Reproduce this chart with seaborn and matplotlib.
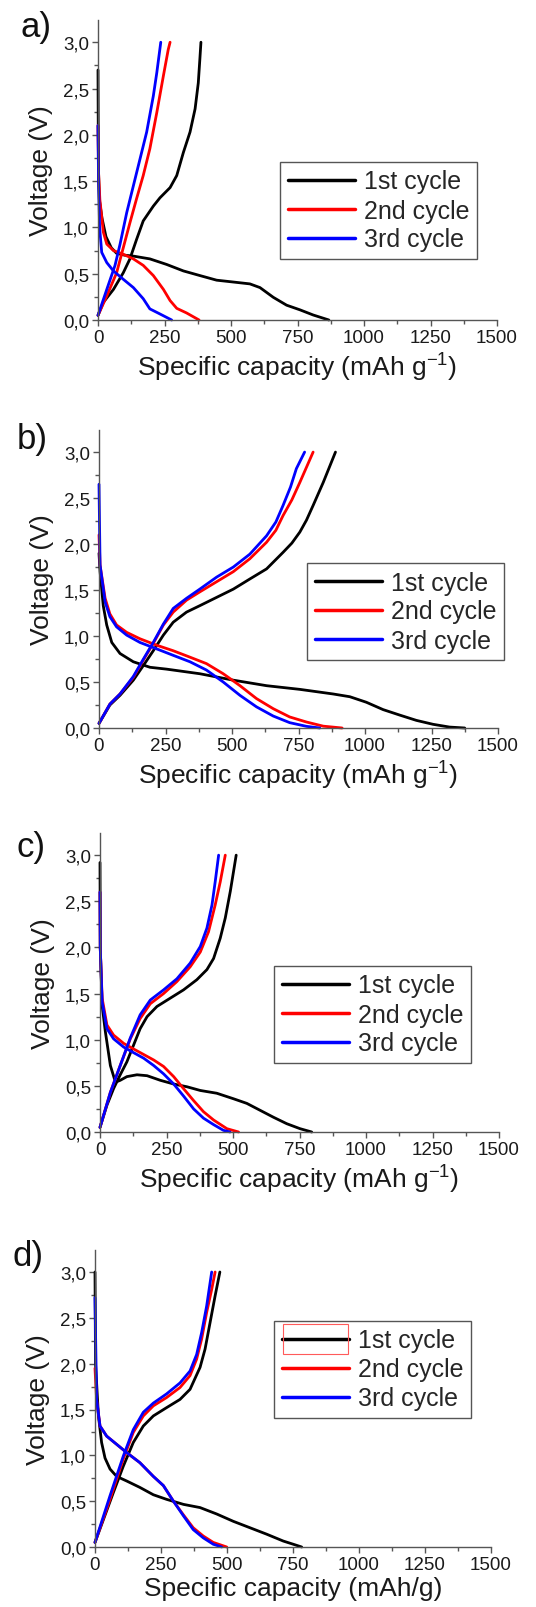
import numpy as np
import pandas as pd
import matplotlib
matplotlib.use("Agg")
import matplotlib.pyplot as plt
import seaborn as sns
from matplotlib.ticker import MultipleLocator, FuncFormatter
from matplotlib.patches import Rectangle

# ---------------- data ----------------
cycles = ["1st cycle", "2nd cycle", "3rd cycle"]
colors = ["#000000", "#ff0000", "#0000ff"]
panel_labels = ["a)", "b)", "c)", "d)"]
xlabels = ["Specific capacity (mAh g$^{\\mathregular{-1}}$)"] * 3 + ["Specific capacity (mAh/g)"]
xticks = [0, 250, 500, 750, 1000, 1250, 1500]
yticks = [0.0, 0.5, 1.0, 1.5, 2.0, 2.5, 3.0]

# Panel a
a_dis1_x = [0, 1, 2, 5, 15, 30, 50, 70, 100, 133, 195, 258, 321, 383, 446, 509, 571, 609, 659, 709, 759, 809, 868]
a_dis1_y = [2.7, 2.0, 1.6, 1.3, 1.1, 0.9, 0.78, 0.72, 0.70, 0.69, 0.66, 0.60, 0.53, 0.48, 0.43, 0.41, 0.39, 0.35, 0.245, 0.16, 0.11, 0.054, 0.0]
a_dis2_x = [0, 2, 7, 20, 33, 58, 95, 133, 170, 208, 246, 271, 296, 333, 380]
a_dis2_y = [2.1, 1.6, 1.3, 0.95, 0.82, 0.75, 0.71, 0.66, 0.59, 0.48, 0.33, 0.21, 0.126, 0.076, 0.0]
a_dis3_x = [0, 2, 6, 14, 33, 58, 95, 133, 170, 195, 233, 277]
a_dis3_y = [2.1, 1.5, 1.0, 0.73, 0.62, 0.53, 0.44, 0.35, 0.23, 0.12, 0.065, 0.0]
a_chg1_x = [0, 20, 58, 95, 120, 145, 170, 208, 233, 271, 296, 321, 346, 365, 377, 383, 387]
a_chg1_y = [0.05, 0.19, 0.33, 0.51, 0.66, 0.87, 1.07, 1.23, 1.32, 1.43, 1.56, 1.81, 2.03, 2.28, 2.56, 2.82, 3.0]
a_chg2_x = [0, 33, 70, 95, 120, 145, 170, 195, 221, 246, 264, 271]
a_chg2_y = [0.05, 0.26, 0.51, 0.78, 1.05, 1.31, 1.56, 1.85, 2.24, 2.64, 2.92, 3.0]
a_chg3_x = [0, 33, 64, 83, 108, 133, 158, 183, 208, 221, 236]
a_chg3_y = [0.05, 0.33, 0.59, 0.82, 1.16, 1.45, 1.74, 2.03, 2.42, 2.67, 3.0]

# Panel b
b_dis1_x = [0, 4, 16, 29, 48, 79, 129, 192, 254, 379, 505, 630, 755, 880, 943, 1005, 1068, 1131, 1193, 1256, 1318, 1375]
b_dis1_y = [1.9, 1.70, 1.33, 1.12, 0.93, 0.81, 0.72, 0.66, 0.64, 0.59, 0.52, 0.46, 0.42, 0.37, 0.34, 0.28, 0.20, 0.14, 0.083, 0.04, 0.01, 0.0]
b_dis2_x = [0, 4, 23, 41, 66, 104, 154, 217, 279, 342, 404, 467, 530, 592, 655, 717, 780, 843, 914]
b_dis2_y = [2.1, 1.77, 1.41, 1.24, 1.12, 1.04, 0.97, 0.90, 0.84, 0.77, 0.70, 0.59, 0.46, 0.32, 0.21, 0.12, 0.065, 0.02, 0.0]
b_dis3_x = [0, 4, 23, 41, 66, 104, 154, 217, 279, 342, 404, 467, 530, 592, 655, 717, 780, 830]
b_dis3_y = [2.65, 1.77, 1.37, 1.21, 1.10, 1.01, 0.93, 0.86, 0.79, 0.72, 0.63, 0.50, 0.355, 0.23, 0.13, 0.058, 0.018, 0.0]
b_chg1_x = [0, 41, 79, 129, 167, 204, 242, 279, 329, 379, 442, 505, 567, 630, 692, 725, 755, 780, 805, 843, 889]
b_chg1_y = [0.05, 0.25, 0.355, 0.52, 0.68, 0.84, 1.01, 1.15, 1.26, 1.33, 1.42, 1.51, 1.62, 1.73, 1.91, 2.01, 2.13, 2.26, 2.42, 2.67, 3.0]
b_chg2_x = [0, 41, 79, 129, 167, 204, 242, 279, 329, 379, 442, 505, 567, 630, 665, 692, 725, 755, 805]
b_chg2_y = [0.05, 0.26, 0.37, 0.55, 0.74, 0.92, 1.12, 1.26, 1.39, 1.48, 1.59, 1.70, 1.84, 2.02, 2.15, 2.31, 2.48, 2.67, 3.0]
b_chg3_x = [0, 41, 79, 129, 167, 204, 242, 279, 329, 379, 442, 505, 567, 630, 665, 692, 720, 742, 773]
b_chg3_y = [0.05, 0.26, 0.37, 0.56, 0.75, 0.93, 1.13, 1.30, 1.41, 1.51, 1.64, 1.75, 1.89, 2.09, 2.24, 2.42, 2.62, 2.82, 3.0]

# Panel c
c_dis1_x = [0, 1, 8, 20, 39, 58, 76, 101, 139, 177, 227, 277, 327, 377, 439, 502, 552, 602, 652, 702, 752, 796]
c_dis1_y = [2.92, 2.0, 1.37, 1.09, 0.72, 0.54, 0.56, 0.60, 0.62, 0.61, 0.56, 0.52, 0.49, 0.45, 0.42, 0.36, 0.31, 0.235, 0.16, 0.09, 0.036, 0.0]
c_dis2_x = [0, 1, 8, 26, 51, 89, 126, 164, 202, 239, 277, 314, 352, 389, 427, 477, 521]
c_dis2_y = [2.6, 1.99, 1.45, 1.16, 1.05, 0.96, 0.90, 0.84, 0.78, 0.71, 0.60, 0.47, 0.34, 0.22, 0.13, 0.036, 0.0]
c_dis3_x = [0, 1, 8, 26, 51, 89, 126, 164, 202, 239, 277, 314, 352, 389, 427, 464, 489]
c_dis3_y = [2.6, 1.99, 1.41, 1.12, 1.01, 0.92, 0.86, 0.80, 0.72, 0.63, 0.52, 0.39, 0.25, 0.15, 0.08, 0.018, 0.0]
c_chg1_x = [0, 26, 51, 76, 101, 126, 151, 177, 214, 264, 314, 364, 402, 427, 452, 471, 490, 512]
c_chg1_y = [0.05, 0.29, 0.47, 0.62, 0.76, 0.94, 1.12, 1.25, 1.36, 1.45, 1.54, 1.65, 1.76, 1.88, 2.10, 2.32, 2.61, 3.0]
c_chg2_x = [0, 39, 76, 114, 151, 189, 239, 289, 339, 377, 408, 433, 452, 471]
c_chg2_y = [0.05, 0.43, 0.72, 1.01, 1.23, 1.39, 1.50, 1.63, 1.79, 1.95, 2.17, 2.46, 2.71, 3.0]
c_chg3_x = [0, 39, 76, 114, 151, 189, 239, 289, 339, 377, 402, 421, 433, 446]
c_chg3_y = [0.05, 0.43, 0.72, 1.02, 1.27, 1.43, 1.54, 1.66, 1.83, 2.01, 2.21, 2.46, 2.71, 3.0]

# Panel d
d_dis1_x = [0, 2, 13, 25, 38, 57, 82, 120, 170, 221, 271, 335, 398, 461, 524, 587, 650, 713, 751, 783]
d_dis1_y = [3.0, 2.0, 1.43, 1.14, 0.97, 0.85, 0.77, 0.72, 0.65, 0.57, 0.52, 0.465, 0.43, 0.36, 0.28, 0.21, 0.14, 0.065, 0.03, 0.0]
d_dis2_x = [0, 6, 19, 44, 82, 120, 170, 221, 259, 297, 335, 372, 410, 448, 499]
d_dis2_y = [1.95, 1.61, 1.32, 1.21, 1.12, 1.03, 0.92, 0.77, 0.67, 0.50, 0.35, 0.21, 0.12, 0.05, 0.0]
d_dis3_x = [0, 6, 19, 44, 82, 120, 170, 221, 259, 297, 335, 372, 410, 448, 480]
d_dis3_y = [2.72, 1.61, 1.32, 1.21, 1.12, 1.03, 0.92, 0.77, 0.67, 0.50, 0.34, 0.19, 0.10, 0.03, 0.0]
d_chg1_x = [0, 32, 69, 107, 145, 183, 221, 271, 322, 360, 398, 417, 436, 455, 473]
d_chg1_y = [0.05, 0.30, 0.59, 0.88, 1.14, 1.32, 1.43, 1.52, 1.61, 1.72, 1.96, 2.16, 2.45, 2.74, 3.0]
d_chg2_x = [0, 57, 107, 145, 183, 221, 271, 322, 360, 385, 404, 423, 442, 455]
d_chg2_y = [0.05, 0.52, 0.96, 1.25, 1.43, 1.54, 1.63, 1.74, 1.87, 2.05, 2.27, 2.56, 2.81, 3.0]
d_chg3_x = [0, 57, 107, 145, 183, 221, 271, 322, 360, 385, 404, 423, 442]
d_chg3_y = [0.05, 0.56, 0.99, 1.28, 1.47, 1.57, 1.67, 1.79, 1.92, 2.10, 2.34, 2.63, 3.0]

panels = [
    [(a_dis1_x, a_dis1_y, a_chg1_x, a_chg1_y), (a_dis2_x, a_dis2_y, a_chg2_x, a_chg2_y), (a_dis3_x, a_dis3_y, a_chg3_x, a_chg3_y)],
    [(b_dis1_x, b_dis1_y, b_chg1_x, b_chg1_y), (b_dis2_x, b_dis2_y, b_chg2_x, b_chg2_y), (b_dis3_x, b_dis3_y, b_chg3_x, b_chg3_y)],
    [(c_dis1_x, c_dis1_y, c_chg1_x, c_chg1_y), (c_dis2_x, c_dis2_y, c_chg2_x, c_chg2_y), (c_dis3_x, c_dis3_y, c_chg3_x, c_chg3_y)],
    [(d_dis1_x, d_dis1_y, d_chg1_x, d_chg1_y), (d_dis2_x, d_dis2_y, d_chg2_x, d_chg2_y), (d_dis3_x, d_dis3_y, d_chg3_x, d_chg3_y)],
]

# ---------------- layout ----------------
W, H = 536, 1608
sns.set_theme(style="ticks")
plt.rcParams["font.family"] = ["Liberation Sans", "DejaVu Sans"]
plt.rcParams["mathtext.fontset"] = "custom"
plt.rcParams["mathtext.rm"] = "Liberation Sans"

fig = plt.figure(figsize=(W / 100, H / 100), dpi=100)

# axes boxes in pixels: left, right, top(=3.24 V), bottom(=0 V)
boxes = [(98, 497, 21, 321), (99, 498, 431, 729), (100, 499, 834, 1133), (95, 491, 1251, 1548)]
legend_tl = [(280, 163), (307, 564), (274, 967), (274, 1322)]
label_pos = [(20, 28), (17, 440), (17, 848), (13, 1257)]
axis_col = "#555555"
txt_col = "#1a1a1a"

def comma(v, pos):
    return f"{v:.1f}".replace(".", ",")

legends = []
for i, (box, data) in enumerate(zip(boxes, panels)):
    l, r, t, b = box
    ax = fig.add_axes([l / W, 1 - b / H, (r - l) / W, (b - t) / H])
    rows = []
    for ci, (dx, dy, cx, cy) in enumerate(data):
        for seg, (xs, ys) in enumerate([(dx, dy), (cx, cy)]):
            for x, y in zip(xs, ys):
                rows.append({"cap": x, "volt": y, "cycle": cycles[ci], "seg": f"{ci}-{seg}"})
    df = pd.DataFrame(rows)
    sns.lineplot(data=df, x="cap", y="volt", hue="cycle", units="seg", estimator=None,
                 sort=False, palette=dict(zip(cycles, colors)), hue_order=cycles,
                 linewidth=2.0, ax=ax, clip_on=False)
    ax.set_xlim(0, 1500)
    ax.set_ylim(0, 3.24)
    ax.set_xticks(xticks)
    ax.set_yticks(yticks)
    ax.xaxis.set_minor_locator(MultipleLocator(125))
    ax.yaxis.set_minor_locator(MultipleLocator(0.25))
    ax.yaxis.set_major_formatter(FuncFormatter(comma))
    for s in ["top", "right"]:
        ax.spines[s].set_visible(False)
    for s in ["left", "bottom"]:
        ax.spines[s].set_color(axis_col)
        ax.spines[s].set_linewidth(1.0)
    ax.tick_params(which="major", direction="out", length=4, width=1.0, color=axis_col,
                   labelsize=13.5, labelcolor=txt_col, pad=2.5)
    ax.tick_params(which="minor", direction="out", length=3, width=1.0, color=axis_col)
    ax.set_xlabel(xlabels[i], fontsize=19, color=txt_col, labelpad=2)
    ax.set_ylabel("Voltage (V)", fontsize=19, color=txt_col, labelpad=7)

    handles, labels = ax.get_legend_handles_labels()
    lx, ly = legend_tl[i]
    leg = ax.legend(handles, labels, loc="upper left", bbox_to_anchor=(lx / W, 1 - ly / H),
                    bbox_transform=fig.transFigure, borderaxespad=0, fontsize=18,
                    frameon=True, fancybox=False, edgecolor="#555555", framealpha=1,
                    handlelength=2.7, handletextpad=0.35, labelspacing=0.2,
                    borderpad=0.3)
    leg.get_frame().set_linewidth(1.0)
    for lh in leg.get_lines():
        lh.set_linewidth(2.5)
    legends.append(leg)

    px, py = label_pos[i]
    fig.text(px / W, 1 - py / H, panel_labels[i], fontsize=25, ha="left", va="center",
             color="#111111")

# selection-box artifact around the first legend handle of panel d
fig.canvas.draw()
hb = legends[3].get_lines()[0].get_window_extent(fig.canvas.get_renderer())
x0, x1 = hb.x0 + 1, hb.x1 - 1
yc = 0.5 * (hb.y0 + hb.y1)
fig.patches.append(Rectangle((x0 / W / 1.0, (yc - 15) / H), (x1 - x0) / W, 30 / H, fill=False,
                             edgecolor="#ff5a5a", linewidth=0.8,
                             transform=fig.transFigure, figure=fig))

fig.savefig("out.png", dpi=100)
